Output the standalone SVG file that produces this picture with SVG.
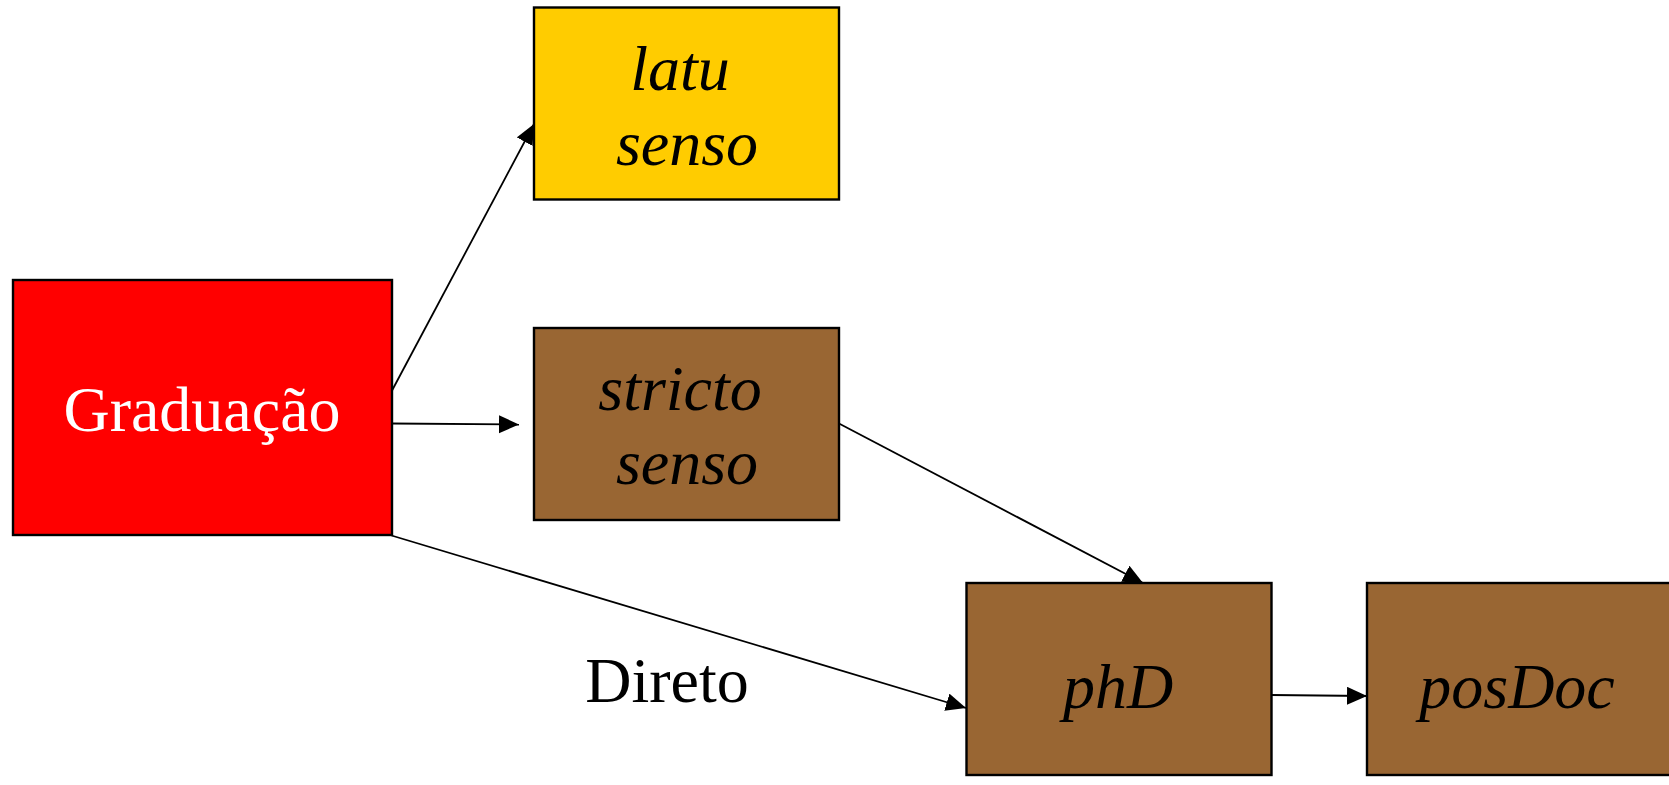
<svg xmlns="http://www.w3.org/2000/svg" width="1669" height="785" viewBox="0 0 1669 785">
<style>
.box{stroke:#000;stroke-width:2.4}
.red{fill:#FF0000}
.gold{fill:#FFCC00}
.brown{fill:#996633}
.conn{stroke:#000;stroke-width:1.8;fill:none;marker-end:url(#arrow)}
.t{font-family:"Liberation Serif","Times New Roman",serif;font-size:64px;text-anchor:middle}
.it{font-style:italic;fill:#000}
</style>
<defs>
<marker id="arrow" markerUnits="userSpaceOnUse" markerWidth="22" markerHeight="20" refX="20" refY="9" orient="auto">
<path d="M0,0 L20,9 L0,18 Z" fill="#000"/>
</marker>
</defs>
<rect width="1669" height="785" fill="#fff"/>
<g id="connectors">
<line class="conn" x1="391.5" y1="391.5" x2="534" y2="124"/>
<line class="conn" x1="391.5" y1="423.5" x2="519" y2="424.5"/>
<line class="conn" x1="839" y1="423.5" x2="1143" y2="583"/>
<line class="conn" x1="391.5" y1="535.5" x2="966" y2="708"/>
<line class="conn" x1="1271" y1="695" x2="1367" y2="696"/>
</g>
<g id="graduacao">
<rect class="box red" x="13" y="280" width="379" height="255"/>
<text class="t" x="202" y="431" fill="#fff">Graduação</text>
</g>
<g id="latu-senso">
<rect class="box gold" x="534" y="7.5" width="305" height="192"/>
<text class="t it" x="680" y="90">latu</text>
<text class="t it" x="687" y="165">senso</text>
</g>
<g id="stricto-senso">
<rect class="box brown" x="534" y="328" width="305" height="192"/>
<text class="t it" x="680" y="410">stricto</text>
<text class="t it" x="687" y="484">senso</text>
</g>
<g id="phd">
<rect class="box brown" x="966.5" y="583" width="305" height="192"/>
<text class="t it" x="1118" y="708">phD</text>
</g>
<g id="posdoc">
<rect class="box brown" x="1367" y="583" width="305" height="192"/>
<text class="t it" x="1517" y="708">posDoc</text>
</g>
<g id="direto-label">
<text class="t" x="667" y="702" fill="#000">Direto</text>
</g>
</svg>
